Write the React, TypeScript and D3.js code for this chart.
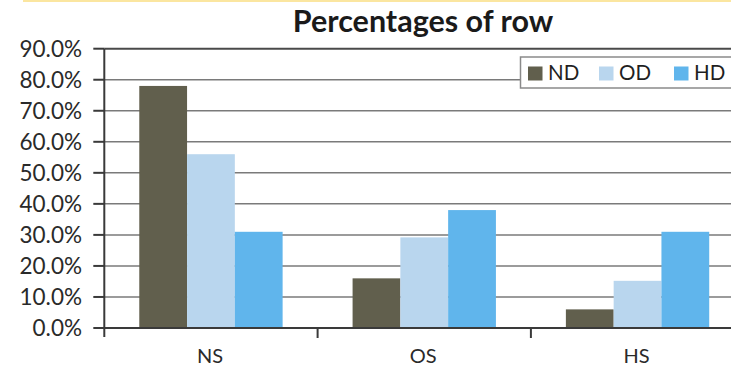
import React from "react";
import * as d3 from "d3";

const categories = ["NS", "OS", "HS"];
const seriesNames = ["ND", "OD", "HD"];
const ndValues = [0.78, 0.16, 0.06];
const odValues = [0.56, 0.292, 0.152];
const hdValues = [0.31, 0.38, 0.31];
const yTicks = [0, 0.1, 0.2, 0.3, 0.4, 0.5, 0.6, 0.7, 0.8, 0.9];
const seriesColors = ["#615f4d", "#b9d6ee", "#60b5ec"];
const title = "Percentages of row";

const W = 731;
const H = 367;
const FONT = "Lato, 'Open Sans', sans-serif";

export default function App() {
  const seriesValues = [ndValues, odValues, hdValues];

  const x = d3.scaleBand<string>().domain(categories).range([104.3, 744.2]).padding(0);
  const bw = x.bandwidth();
  const inner = d3
    .scaleBand<string>()
    .domain(seriesNames)
    .range([bw * 0.164, bw * 0.836])
    .padding(0);
  const y = d3.scaleLinear().domain([0, 0.9]).range([328, 48.7]);
  const fmt = d3.format(".1%");

  const left = x.range()[0];
  const right = x.range()[1];

  return (
    <div style={{ position: "absolute", left: 0, top: 0 }}>
      <svg width={W} height={H} style={{ display: "block", background: "#fff" }}>
        <rect x={23} y={0} width={W - 23} height={2} fill="#fbe6a0" />

        <text
          x={423}
          y={32}
          textAnchor="middle"
          fontFamily={FONT}
          fontWeight={700}
          fontSize={30.5}
          fill="#1a1a1a"
        >
          {title}
        </text>

        {/* horizontal gridlines */}
        {yTicks.map((t) => (
          <line
            key={"g" + t}
            x1={left}
            x2={right}
            y1={y(t)}
            y2={y(t)}
            stroke={t === 0 || t === 0.9 ? "#4a4a4a" : "#7a7a7a"}
            strokeWidth={t === 0 || t === 0.9 ? 2 : 1.5}
          />
        ))}

        {/* bars */}
        {categories.map((c, ci) => (
          <g key={c} transform={`translate(${x(c)},0)`}>
            {seriesNames.map((s, si) => {
              const v = seriesValues[si][ci];
              return (
                <rect
                  key={s}
                  x={inner(s)}
                  y={y(v)}
                  width={inner.bandwidth()}
                  height={y(0) - y(v)}
                  fill={seriesColors[si]}
                />
              );
            })}
          </g>
        ))}

        {/* y axis */}
        <line x1={left} x2={left} y1={y(0.9)} y2={y(0) + 9} stroke="#3a3a3a" strokeWidth={2} />
        {yTicks.map((t) => (
          <g key={"t" + t}>
            <line x1={left - 11} x2={left} y1={y(t)} y2={y(t)} stroke="#3a3a3a" strokeWidth={2} />
            <text
              x={82}
              y={y(t) + 8}
              textAnchor="end"
              fontFamily={FONT}
              fontSize={22.5}
              fill="#2a2a2a"
            >
              {fmt(t)}
            </text>
          </g>
        ))}

        {/* x axis */}
        <line x1={left} x2={right} y1={y(0)} y2={y(0)} stroke="#3a3a3a" strokeWidth={2} />
        {categories.map((c, ci) =>
          ci === 0 ? null : (
            <line
              key={"xt" + c}
              x1={x(c)!}
              x2={x(c)!}
              y1={y(0)}
              y2={y(0) + 10}
              stroke="#3a3a3a"
              strokeWidth={2}
            />
          )
        )}
        {categories.map((c) => (
          <text
            key={"xl" + c}
            x={x(c)! + bw / 2 - 1}
            y={363}
            textAnchor="middle"
            fontFamily={FONT}
            fontSize={20}
            fill="#2a2a2a"
          >
            {c}
          </text>
        ))}

        {/* legend */}
        <rect x={520.5} y={57} width={240} height={31} fill="#fff" stroke="#8a8a8a" strokeWidth={1.5} />
        {seriesNames.map((s, i) => {
          const lx = [528, 599, 674][i];
          return (
            <g key={"lg" + s}>
              <rect x={lx} y={66.5} width={14.5} height={14} fill={seriesColors[i]} />
              <text x={lx + 20} y={80} fontFamily={FONT} fontSize={20.5} fill="#1f1f1f">
                {s}
              </text>
            </g>
          );
        })}
      </svg>
    </div>
  );
}
